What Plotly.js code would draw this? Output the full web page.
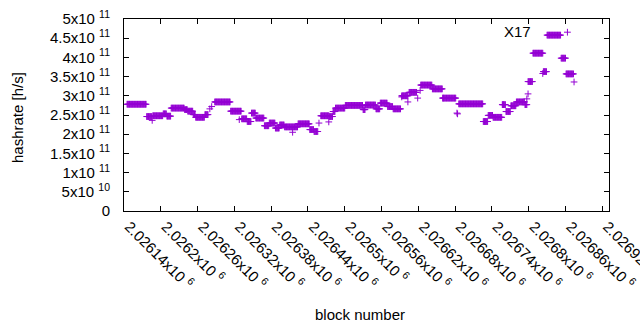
<!DOCTYPE html>
<html>
<head>
<meta charset="utf-8">
<script src="https://cdn.plot.ly/plotly-3.0.1.min.js"></script>
<style>html,body{margin:0;padding:0;background:#fff;}#chart{width:640px;height:330px;}</style>
</head>
<body>
<div id="chart"></div>
<script>
// Runs of constant hashrate: first block, last block, hashrate (x1e11 h/s)
var runStart = [2026145,2026177,2026187,2026204,2026210,2026217,2026239,2026244,2026253,2026257,2026272,2026288,2026314,2026332,2026341,2026348,2026355,2026369,2026377,2026387,2026394,2026402,2026424,2026443,2026450,2026461,2026475,2026481,2026485,2026501,2026530,2026534,2026551,2026558,2026570,2026579,2026593,2026605,2026624,2026643,2026660,2026686,2026726,2026734,2026742,2026757,2026763,2026771,2026780,2026794,2026799,2026807,2026824,2026830,2026853,2026861];
var runEnd   = [2026176,2026185,2026203,2026209,2026216,2026238,2026243,2026252,2026256,2026271,2026277,2026313,2026331,2026340,2026347,2026354,2026368,2026376,2026386,2026393,2026401,2026423,2026442,2026449,2026456,2026474,2026480,2026484,2026500,2026529,2026533,2026550,2026557,2026569,2026578,2026591,2026603,2026617,2026642,2026659,2026681,2026725,2026733,2026741,2026756,2026762,2026770,2026779,2026793,2026797,2026806,2026823,2026829,2026852,2026860,2026873];
var runValue = [2.78,2.46,2.48,2.53,2.47,2.68,2.64,2.60,2.51,2.44,2.51,2.84,2.60,2.40,2.33,2.55,2.42,2.22,2.29,2.16,2.24,2.19,2.27,2.12,2.07,2.48,2.46,2.59,2.68,2.75,2.64,2.76,2.66,2.81,2.72,2.66,3.00,3.09,3.28,3.18,2.94,2.79,2.33,2.49,2.44,2.77,2.59,2.74,2.84,2.77,3.37,4.11,3.63,4.58,3.98,3.57];
// Single scattered samples
var singleBlock = [2026186,2026280,2026283,2026328,2026415,2026458,2026474,2026593,2026603,2026619,2026623,2026660,2026683,2026684,2026729,2026758,2026797,2026799,2026823,2026874];
var singleValue = [2.36,2.66,2.72,2.38,2.05,2.29,2.32,2.97,2.84,2.94,3.14,2.94,2.55,2.53,2.33,2.77,2.92,3.05,3.58,3.36];

var xTickVals = [2026140,2026200,2026260,2026320,2026380,2026440,2026500,2026560,2026620,2026680,2026740,2026800,2026860,2026920];
var xTickMant = ["2.02614","2.0262","2.02626","2.02632","2.02638","2.02644","2.0265","2.02656","2.02662","2.02668","2.02674","2.0268","2.02686","2.02692"];
var yTickVals = [0,5e10,1e11,1.5e11,2e11,2.5e11,3e11,3.5e11,4e11,4.5e11,5e11];
var yTickText = ["0","5x10 <sup>10</sup>","1x10 <sup>11</sup>","1.5x10 <sup>11</sup>","2x10 <sup>11</sup>","2.5x10 <sup>11</sup>","3x10 <sup>11</sup>","3.5x10 <sup>11</sup>","4x10 <sup>11</sup>","4.5x10 <sup>11</sup>","5x10 <sup>11</sup>"];
var seriesName = "X17";

var xs = [], ys = [];
for (var i = 0; i < runStart.length; i++) {
  for (var b = runStart[i]; b <= runEnd[i]; b++) { xs.push(b); ys.push(runValue[i] * 1e11); }
}
for (var j = 0; j < singleBlock.length; j++) { xs.push(singleBlock[j]); ys.push(singleValue[j] * 1e11); }

var purple = "#9400D3";
var fnt = {family: "Liberation Sans, Arial, sans-serif", size: 15, color: "#000"};

var trace = {
  x: xs, y: ys, type: "scatter", mode: "markers", name: seriesName,
  marker: {symbol: "cross-thin", size: 4.8, line: {width: 1, color: purple}, color: purple},
  cliponaxis: false, showlegend: false
};

var layout = {
  width: 640, height: 330,
  margin: {l: 124, r: 30.7, t: 19.3, b: 118.7, pad: 0},
  paper_bgcolor: "#fff", plot_bgcolor: "#fff",
  font: fnt,
  showlegend: false,
  xaxis: {
    range: [2026140, 2026931], tickvals: xTickVals,
    ticktext: xTickMant.map(function(m){ return m + "x10 <sup>6</sup>"; }),
    tickangle: 45, ticks: "inside", ticklen: 5, tickwidth: 1, tickcolor: "#000",
    showline: true, linecolor: "#000", linewidth: 1, mirror: "ticks",
    showgrid: false, zeroline: false, tickfont: fnt,
    ticklabelstandoff: 0, ticklabelshift: 5, ticklabeloverflow: "allow"
  },
  yaxis: {
    range: [0, 5e11], tickvals: yTickVals, ticktext: yTickText,
    ticks: "inside", ticklen: 5, tickwidth: 1, tickcolor: "#000",
    showline: true, linecolor: "#000", linewidth: 1, mirror: "ticks",
    showgrid: false, zeroline: false, tickfont: fnt, ticklabelstandoff: 10
  },
  annotations: [
    {text: "hashrate [h/s]", xref: "paper", yref: "paper", x: 0, y: 0.5, xshift: -107, yshift: -3,
     xanchor: "center", yanchor: "middle", textangle: -90, showarrow: false, font: fnt},
    {text: "block number", xref: "paper", yref: "paper", x: 0.5, y: 0, xshift: -6.7, yshift: -103.7,
     xanchor: "center", yanchor: "middle", showarrow: false, font: fnt},
    {text: seriesName, xref: "paper", yref: "paper", x: (533.5-124)/485.3, y: (211.3-31.7)/192,
     xanchor: "right", yanchor: "middle", showarrow: false, font: fnt}
  ],
  shapes: [
    {type: "path", xref: "paper", yref: "paper", xsizemode: "pixel", ysizemode: "pixel",
     xanchor: (567.7-124)/485.3, yanchor: (211.3-32.5)/192,
     path: "M-3.4,0H3.4M0,-3.4V3.4", line: {color: purple, width: 1}}
  ]
};

Plotly.newPlot("chart", [trace], layout, {staticPlot: true, displayModeBar: false});
</script>
</body>
</html>
